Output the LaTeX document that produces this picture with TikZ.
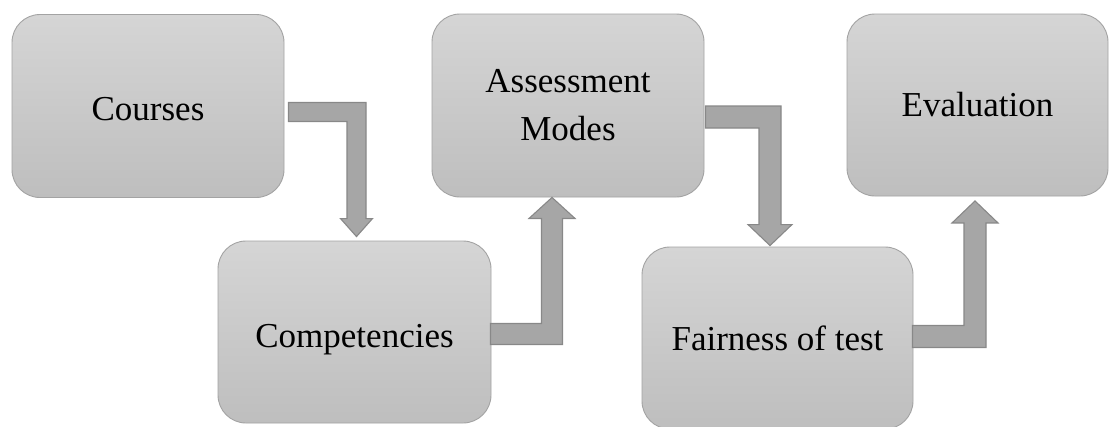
\documentclass[tikz,border=0pt]{standalone}
\usepackage{fontspec}
\setmainfont{Liberation Serif}
\usetikzlibrary{calc}
\definecolor{boxtop}{HTML}{D5D5D5}
\definecolor{boxbot}{HTML}{BEBEBE}
\definecolor{boxline}{HTML}{A3A3A3}
\definecolor{arrfill}{HTML}{A6A6A6}
\definecolor{arrline}{HTML}{888888}
\tikzset{
  stagebox/.style={draw=boxline, line width=0.9pt, rounded corners=28pt,
    top color=boxtop, bottom color=boxbot, align=center,
    font=\fontsize{35}{48}\selectfont, text=black, inner sep=0pt},
  blockarrow/.style={fill=arrfill, draw=arrline, line width=1.1pt, line join=miter}
}
\newcommand\lowered[2]{\raisebox{-#1}[\height][\depth]{#2}}
% #1 start, #2 tip, #3 shaft half width, #4 head half width, #5 head length
\newcommand\bentdn[5]{%
  \draw[blockarrow] let \p1=(#1), \p2=(#2) in
    (\x1,\y1+#3) -- (\x2+#3,\y1+#3) -- (\x2+#3,\y2+#5) -- (\x2+#4,\y2+#5)
    -- (\x2,\y2) -- (\x2-#4,\y2+#5) -- (\x2-#3,\y2+#5) -- (\x2-#3,\y1-#3)
    -- (\x1,\y1-#3) -- cycle;}
\newcommand\bentup[5]{%
  \draw[blockarrow] let \p1=(#1), \p2=(#2) in
    (\x1,\y1-#3) -- (\x2+#3,\y1-#3) -- (\x2+#3,\y2-#5) -- (\x2+#4,\y2-#5)
    -- (\x2,\y2) -- (\x2-#4,\y2-#5) -- (\x2-#3,\y2-#5) -- (\x2-#3,\y1+#3)
    -- (\x1,\y1+#3) -- cycle;}
\begin{document}
\begin{tikzpicture}[x=1pt,y=-1pt]
\fill[white] (0,0) rectangle (1110,426);
\useasboundingbox (0,0) rectangle (1110,426);

\node[stagebox, minimum width=272pt, minimum height=183pt] (courses) at (148,106) {\lowered{3pt}{Courses}};
\node[stagebox, minimum width=273pt, minimum height=182pt] (competencies) at (354.5,332) {\lowered{8pt}{Competencies}};
\node[stagebox, minimum width=272pt, minimum height=183pt] (assessment) at (568,105.5) {Assessment\\Modes};
\node[stagebox, minimum width=271pt, minimum height=182pt] (fairness) at (777.5,338) {Fairness of test};
\node[stagebox, minimum width=261pt, minimum height=182pt] (evaluation) at (977.5,105) {Evaluation};

\bentdn{$(courses.east)+(4,6)$}{$(competencies.north)+(2,-4)$}{9.5pt}{16pt}{18pt}
\bentup{$(competencies.east)+(-1,2)$}{$(assessment.south)+(-16,0)$}{10.5pt}{23pt}{21pt}
\bentdn{$(assessment.east)+(1,11.5)$}{$(fairness.north)+(-7.5,-1)$}{11pt}{22pt}{21pt}
\bentup{$(fairness.east)+(-1,-1.5)$}{$(evaluation.south)+(-2.5,4.5)$}{11pt}{23pt}{22pt}
\end{tikzpicture}
\end{document}
